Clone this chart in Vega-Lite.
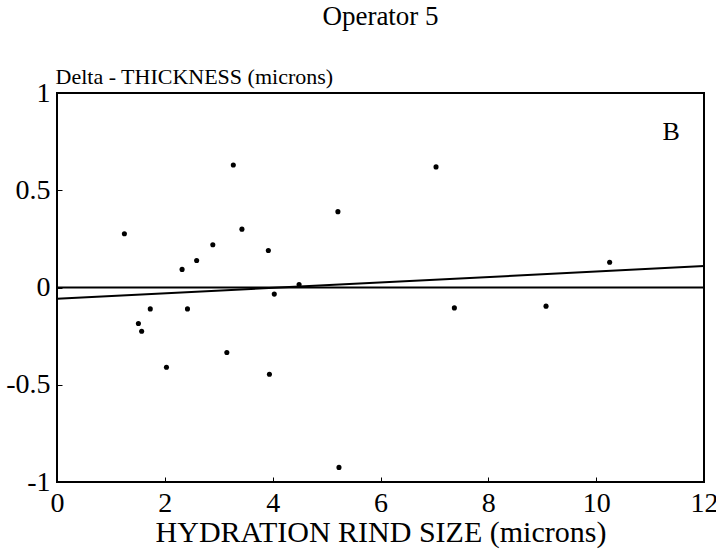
{
  "$schema": "https://vega.github.io/schema/vega-lite/v6.json",
  "autosize": {"type": "none"},
  "padding": {"left": 57, "top": 93, "right": 12, "bottom": 71},
  "width": 647,
  "height": 389,
  "background": "white",
  "config": {
    "font": "Liberation Serif",
    "view": {"stroke": "black", "strokeWidth": 2},
    "axis": {"grid": false, "domain": false}
  },
  "title": {
    "text": "Operator 5",
    "anchor": "middle",
    "font": "Liberation Serif",
    "fontSize": 27,
    "fontWeight": "normal",
    "color": "black",
    "offset": 34
  },
  "datasets": {
    "points": [
      {"x": 3.27, "y": 0.63},
      {"x": 5.21, "y": 0.39},
      {"x": 1.25, "y": 0.276},
      {"x": 3.43, "y": 0.30},
      {"x": 2.89, "y": 0.22},
      {"x": 3.92, "y": 0.19},
      {"x": 2.59, "y": 0.139},
      {"x": 2.32, "y": 0.093},
      {"x": 4.49, "y": 0.015},
      {"x": 4.03, "y": -0.034},
      {"x": 1.73, "y": -0.11},
      {"x": 2.42, "y": -0.11},
      {"x": 1.51, "y": -0.185},
      {"x": 1.57, "y": -0.225},
      {"x": 3.15, "y": -0.334},
      {"x": 2.03, "y": -0.41},
      {"x": 3.94, "y": -0.446},
      {"x": 7.03, "y": 0.62},
      {"x": 10.25, "y": 0.13},
      {"x": 7.37, "y": -0.105},
      {"x": 9.07, "y": -0.096},
      {"x": 5.23, "y": -0.925}
    ],
    "fit": [
      {"x": 0, "y": -0.058},
      {"x": 12, "y": 0.11}
    ],
    "zero": [
      {"x": 0, "y": 0},
      {"x": 12, "y": 0}
    ],
    "label": [
      {"x": 11.39, "y": 0.8, "t": "B"}
    ]
  },
  "layer": [
    {
      "data": {"name": "zero"},
      "mark": {"type": "line", "color": "black", "strokeWidth": 2},
      "encoding": {
        "x": {
          "field": "x", "type": "quantitative",
          "scale": {"domain": [0, 12], "nice": false, "zero": false},
          "axis": {
            "values": [0, 2, 4, 6, 8, 10, 12],
            "labelExpr": "'' + datum.value",
            "tickSize": -5, "tickColor": "black", "tickWidth": 1,
            "labelFont": "Liberation Serif", "labelFontSize": 28, "labelColor": "black",
            "labelPadding": 12, "labelFlush": false,
            "encode": {"labels": {"update": {"dx": {"signal": "datum.value == 12 ? -7 : 0"}}}},
            "title": "HYDRATION RIND SIZE (microns)",
            "titleFont": "Liberation Serif", "titleFontSize": 30, "titleFontWeight": "normal",
            "titleColor": "black", "titlePadding": 0
          }
        },
        "y": {
          "field": "y", "type": "quantitative",
          "scale": {"domain": [-1, 1], "nice": false},
          "axis": {
            "values": [-1, -0.5, 0, 0.5, 1],
            "labelExpr": "'' + datum.value",
            "tickSize": -5, "tickColor": "black", "tickWidth": 1,
            "labelFont": "Liberation Serif", "labelFontSize": 28, "labelColor": "black",
            "labelPadding": 12, "labelFlush": false,
            "encode": {"labels": {"update": {"dy": {"signal": "datum.value == 1 ? 9 : (datum.value == -1 ? 5 : 2)"}}}},
            "title": "Delta - THICKNESS (microns)",
            "titleFont": "Liberation Serif", "titleFontSize": 22, "titleFontWeight": "normal",
            "titleColor": "black", "titleAngle": 0, "titleAlign": "left",
            "titleBaseline": "alphabetic", "titleX": -2, "titleY": -10
          }
        }
      }
    },
    {
      "data": {"name": "fit"},
      "mark": {"type": "line", "color": "black", "strokeWidth": 2},
      "encoding": {
        "x": {"field": "x", "type": "quantitative"},
        "y": {"field": "y", "type": "quantitative"}
      }
    },
    {
      "data": {"name": "points"},
      "mark": {"type": "circle", "color": "black", "opacity": 1, "size": 26},
      "encoding": {
        "x": {"field": "x", "type": "quantitative"},
        "y": {"field": "y", "type": "quantitative"}
      }
    },
    {
      "data": {"name": "label"},
      "mark": {"type": "text", "font": "Liberation Serif", "fontSize": 26, "color": "black", "baseline": "middle", "align": "center"},
      "encoding": {
        "x": {"field": "x", "type": "quantitative"},
        "y": {"field": "y", "type": "quantitative"},
        "text": {"field": "t"}
      }
    }
  ]
}
